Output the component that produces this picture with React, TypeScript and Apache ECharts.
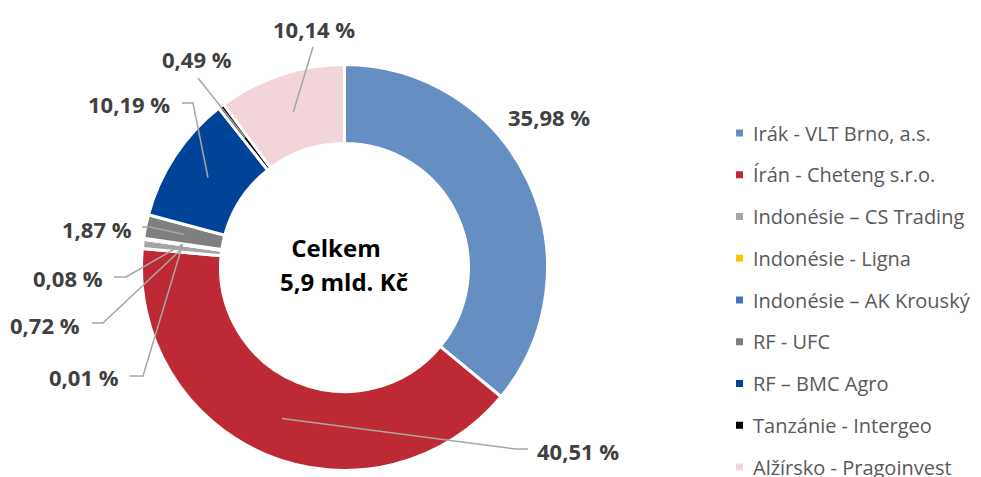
import React, { useEffect, useRef } from 'react';
import * as echarts from 'echarts';

// ---- data ----
const categories = [
  'Irák - VLT Brno, a.s.',
  'Írán - Cheteng s.r.o.',
  'Indonésie – CS Trading',
  'Indonésie - Ligna',
  'Indonésie – AK Krouský',
  'RF - UFC',
  'RF – BMC Agro',
  'Tanzánie - Intergeo',
  'Alžírsko - Pragoinvest',
];
const shares = [35.98, 40.51, 0.72, 0.01, 0.08, 1.87, 10.19, 0.49, 10.14];
const colors = ['#658FC2', '#BE2A34', '#A5A5A5', '#FFC000', '#4472C4', '#7F7F7F', '#00449A', '#000000', '#F2D5D8'];
const centerLines = ['Celkem', '5,9 mld. Kč'];

// ---- layout (not data) ----
const CX = 344.5;
const CY = 267.5;
const R0 = 124;
const R1 = 203;
// label left x, label center y, extra leader-line points (from anchor outward)
const labelSpots: { x: number; y: number; line: number[][] | null }[] = [
  { x: 508, y: 116.5, line: null },
  { x: 537, y: 451, line: [[515, 449], [528, 449]] },
  { x: 10, y: 325, line: [[103, 323], [92, 323]] },
  { x: 49, y: 376.5, line: [[143, 376], [130, 376]] },
  { x: 33, y: 278, line: [[126, 277], [114, 277]] },
  { x: 62, y: 228.5, line: [[150, 227], [142, 227]] },
  { x: 88, y: 104, line: [[193, 103], [182, 103]] },
  { x: 162, y: 58.5, line: [[198, 78]] },
  { x: 273, y: 29, line: [[313, 47]] },
];

const fmt = (v: number) => v.toFixed(2).replace('.', ',') + ' %';

export default function App() {
  const ref = useRef<HTMLDivElement>(null);
  useEffect(() => {
    if (!ref.current) return;
    const chart = echarts.init(ref.current, undefined, { renderer: 'svg' });
    const total = shares.reduce((a, b) => a + b, 0);
    let cum = 0;
    const mids = shares.map((v) => {
      const m = (cum + v / 2) / total;
      cum += v;
      return m;
    });
    const rm = (R0 + R1) / 2;
    const anchor = (i: number) => {
      const t = mids[i] * Math.PI * 2;
      return [CX + rm * Math.sin(t), CY - rm * Math.cos(t)];
    };

    const leaderLines = labelSpots
      .map((s, i) =>
        s.line
          ? {
              type: 'polyline',
              z: 100,
              silent: true,
              shape: { points: [anchor(i), ...s.line] },
              style: { stroke: '#A6A6A6', lineWidth: 1.5, fill: 'none' },
            }
          : null
      )
      .filter(Boolean);

    chart.setOption({
      animation: false,
      legend: {
        orient: 'vertical',
        left: 734,
        top: 122,
        height: 600,
        padding: 0,
        itemWidth: 9,
        itemHeight: 9,
        itemGap: 19.75,
        icon: 'rect',
        selectedMode: false,
        textStyle: {
          fontFamily: 'Open Sans',
          fontSize: 20,
          color: '#595959',
          lineHeight: 22,
          padding: [0, 0, 0, 4],
        },
        data: categories,
      },
      graphic: [
        ...leaderLines,
        {
          type: 'text',
          x: 336,
          y: 247,
          z: 100,
          style: {
            text: centerLines[0],
            fontFamily: 'Open Sans',
            fontWeight: 'bold',
            fontSize: 24,
            fill: '#000000',
            align: 'center',
            verticalAlign: 'middle',
          },
        },
        {
          type: 'text',
          x: 344,
          y: 281,
          z: 100,
          style: {
            text: centerLines[1],
            fontFamily: 'Open Sans',
            fontWeight: 'bold',
            fontSize: 24,
            fill: '#000000',
            align: 'center',
            verticalAlign: 'middle',
          },
        },
      ],
      series: [
        {
          type: 'pie',
          center: [CX, CY],
          radius: [R0, R1],
          startAngle: 90,
          clockwise: true,
          avoidLabelOverlap: false,
          emphasis: { disabled: true },
          itemStyle: { borderColor: '#ffffff', borderWidth: 3 },
          label: {
            show: true,
            position: 'outside',
            formatter: (p: any) => fmt(p.value),
            fontFamily: 'Open Sans',
            fontWeight: 'bold',
            fontSize: 22,
            color: '#404040',
          },
          labelLine: { show: false },
          labelLayout: (params: any) => {
            const s = labelSpots[params.dataIndex];
            return { x: s.x, y: s.y, align: 'left', verticalAlign: 'middle' };
          },
          data: categories.map((name, i) => ({
            name,
            value: shares[i],
            itemStyle: { color: colors[i] },
          })),
        },
      ],
    });
    return () => chart.dispose();
  }, []);
  return (
    <div
      ref={ref}
      style={{ position: 'absolute', left: 0, top: 0, width: 981, height: 477 }}
    />
  );
}
